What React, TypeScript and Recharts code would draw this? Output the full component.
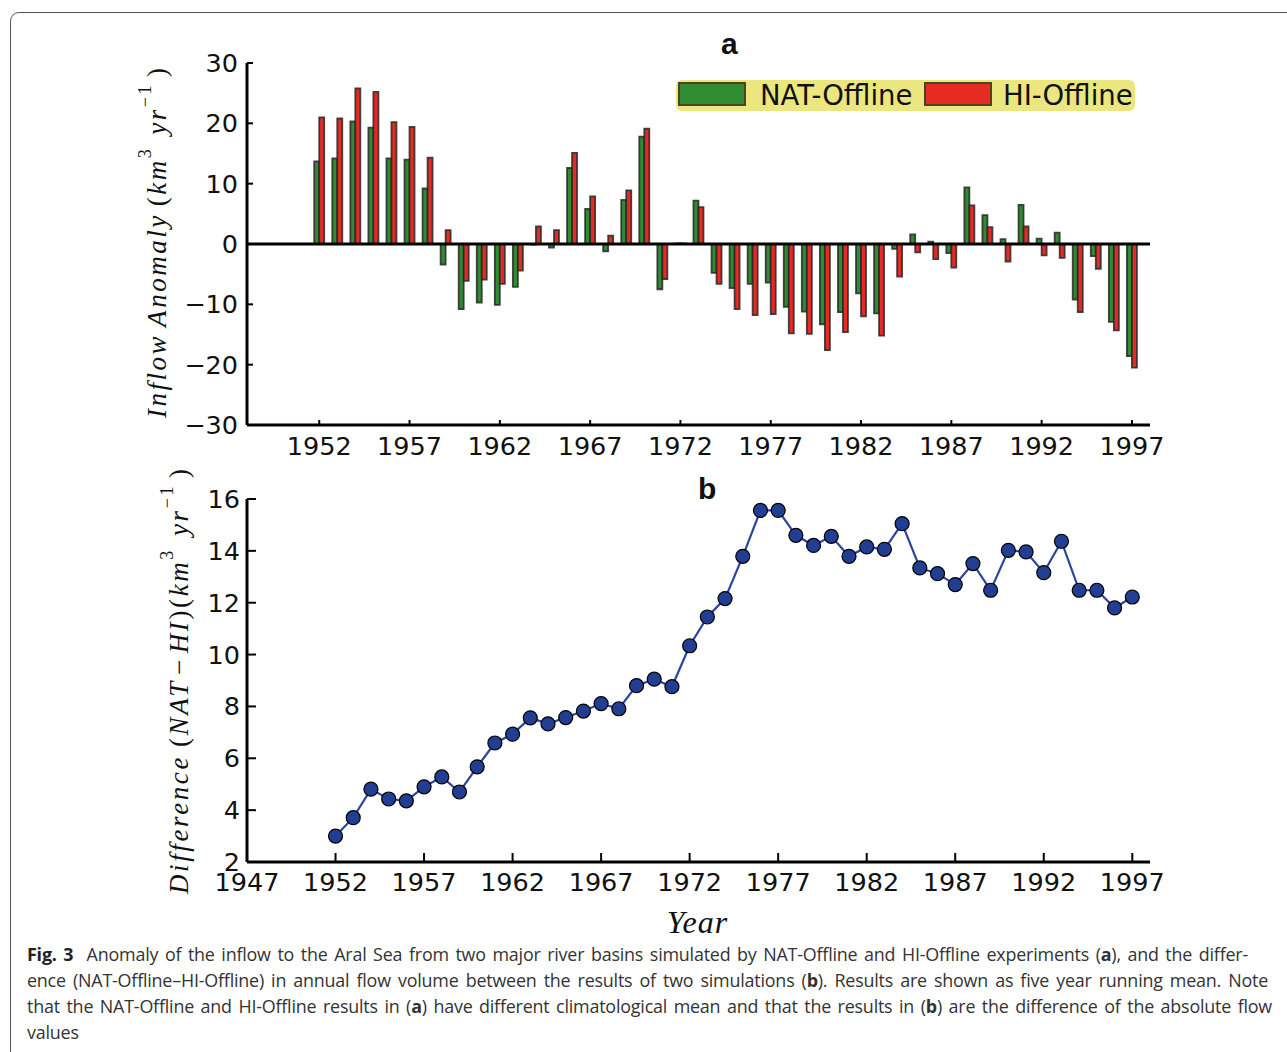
import React from 'react'
import { BarChart, Bar, LineChart, Line, XAxis, YAxis, ReferenceLine } from 'recharts'

const years = [
  1952, 1953, 1954, 1955, 1956, 1957, 1958, 1959, 1960, 1961,
  1962, 1963, 1964, 1965, 1966, 1967, 1968, 1969, 1970, 1971,
  1972, 1973, 1974, 1975, 1976, 1977, 1978, 1979, 1980, 1981,
  1982, 1983, 1984, 1985, 1986, 1987, 1988, 1989, 1990, 1991,
  1992, 1993, 1994, 1995, 1996, 1997,
]

// NAT-Offline inflow anomaly (km3/yr)
const natOffline = [
  13.7, 14.2, 20.3, 19.3, 14.2, 14.0, 9.2, -3.4, -10.8, -9.7,
  -10.1, -7.1, -0.1, -0.6, 12.6, 5.8, -1.2, 7.3, 17.8, -7.5,
  0.1, 7.2, -4.8, -7.3, -6.6, -6.4, -10.4, -11.2, -13.3, -11.3,
  -8.2, -11.5, -0.8, 1.6, 0.4, -1.5, 9.4, 4.8, 0.8, 6.5,
  0.9, 1.9, -9.2, -2.0, -12.9, -18.6,
]

// HI-Offline inflow anomaly (km3/yr)
const hiOffline = [
  21.0, 20.8, 25.8, 25.2, 20.2, 19.4, 14.3, 2.3, -6.1, -5.9,
  -6.6, -4.4, 2.9, 2.3, 15.1, 7.9, 1.4, 8.9, 19.1, -5.8,
  0.1, 6.1, -6.6, -10.8, -11.8, -11.6, -14.8, -14.9, -17.6, -14.6,
  -12.0, -15.2, -5.4, -1.4, -2.5, -3.9, 6.4, 2.8, -2.9, 2.9,
  -1.9, -2.3, -11.3, -4.1, -14.3, -20.5,
]

// NAT - HI difference (km3/yr)
const difference = [
  3.0, 3.71, 4.81, 4.43, 4.36, 4.9, 5.28, 4.7, 5.67, 6.59,
  6.93, 7.56, 7.33, 7.57, 7.82, 8.11, 7.91, 8.8, 9.05, 8.76,
  10.34, 11.45, 12.16, 13.79, 15.56, 15.56, 14.6, 14.21, 14.56, 13.79,
  14.15, 14.06, 15.05, 13.34, 13.12, 12.7, 13.51, 12.48, 14.02, 13.96,
  13.16, 14.37, 12.48, 12.48, 11.8, 12.22,
]

const anomalyTicks = [-30, -20, -10, 0, 10, 20, 30]
const yearTicksA = [1952, 1957, 1962, 1967, 1972, 1977, 1982, 1987, 1992, 1997]
const yearTicksB = [1947, 1952, 1957, 1962, 1967, 1972, 1977, 1982, 1987, 1992, 1997]
const diffTicks = [2, 4, 6, 8, 10, 12, 14, 16]

const GREEN = '#2f8c31'
const RED = '#e52b22'
const EDGE = 'rgba(40,40,40,0.85)'
const BLUE = '#2b459d'
const DOT = '#223e93'

const anomalyData = years.map((year, i) => ({ year, nat: natOffline[i], hi: hiOffline[i] }))
const diffData = years.map((year, i) => ({ year, diff: difference[i] }))

const tickFont = { fontFamily: 'DejaVu Sans', fontSize: 25.5, fill: '#111' }
const fmtMinus = (v: number) => (v < 0 ? `\u2212${-v}` : `${v}`)

const serif = 'Liberation Serif, DejaVu Serif, serif'

function AnomalyLabel(props: any) {
  const vb = props.viewBox ?? { x: 0, y: 63, width: 247, height: 362 }
  const cx = vb.x + 157
  const cy = vb.y + vb.height / 2 - 1
  return (
    <text
      x={cx}
      y={cy}
      transform={`rotate(-90 ${cx} ${cy})`}
      textAnchor="middle"
      dominantBaseline="central"
      fontFamily={serif}
      fontSize={27}
      fill="#111"
      textLength={350}
      lengthAdjust="spacing"
    >
      <tspan fontStyle="italic">Inflow</tspan>
      <tspan fontStyle="italic" dx={7}>Anomaly</tspan>
      <tspan dx={7}>(</tspan>
      <tspan fontStyle="italic">km</tspan>
      <tspan fontSize={18} dy={-12}>3</tspan>
      <tspan fontStyle="italic" dy={12} dx={12}>yr</tspan>
      <tspan fontSize={18} dy={-12}>{'\u22121'}</tspan>
      <tspan dy={12} dx={6}>)</tspan>
    </text>
  )
}

function DiffLabel(props: any) {
  const vb = props.viewBox ?? { x: 0, y: 499, width: 247, height: 363 }
  const cx = vb.x + 179
  const cy = vb.y + vb.height / 2 + 1
  return (
    <text
      x={cx}
      y={cy}
      transform={`rotate(-90 ${cx} ${cy})`}
      textAnchor="middle"
      dominantBaseline="central"
      fontFamily={serif}
      fontSize={27}
      fill="#111"
      textLength={425}
      lengthAdjust="spacing"
    >
      <tspan fontStyle="italic">Difference</tspan>
      <tspan dx={8}>(</tspan>
      <tspan fontStyle="italic">NAT</tspan>
      <tspan dx={4}>{'\u2212'}</tspan>
      <tspan fontStyle="italic" dx={4}>HI</tspan>
      <tspan>)(</tspan>
      <tspan fontStyle="italic">km</tspan>
      <tspan fontSize={18} dy={-12}>3</tspan>
      <tspan fontStyle="italic" dy={12} dx={12}>yr</tspan>
      <tspan fontSize={18} dy={-12}>{'\u22121'}</tspan>
      <tspan dy={12} dx={6}>)</tspan>
    </text>
  )
}

function YearLabel(props: any) {
  const vb = props.viewBox ?? { x: 247, y: 862, width: 903, height: 78 }
  return (
    <text
      x={vb.x + vb.width / 2 - 1}
      y={vb.y + 71}
      textAnchor="middle"
      fontFamily={serif}
      fontStyle="italic"
      fontSize={32}
      letterSpacing={1}
      fill="#111"
    >
      Year
    </text>
  )
}

function LegendBox() {
  const swatch = (left: number, color: string) => (
    <div
      style={{
        position: 'absolute',
        left,
        top: 2,
        width: 64,
        height: 20,
        background: color,
        border: '2px solid #4d4322',
      }}
    />
  )
  const label = (left: number, text: string) => (
    <div
      style={{
        position: 'absolute',
        left,
        top: -2,
        fontFamily: 'DejaVu Sans',
        fontSize: 27.5,
        lineHeight: '34px',
        color: '#111',
        whiteSpace: 'nowrap',
      }}
    >
      {text}
    </div>
  )
  return (
    <div
      style={{
        position: 'absolute',
        left: 676,
        top: 80,
        width: 459,
        height: 31,
        background: '#ebe77e',
        borderRadius: 6,
      }}
    >
      {swatch(2, GREEN)}
      {label(84, 'NAT-Offline')}
      {swatch(248, RED)}
      {label(327, 'HI-Offline')}
    </div>
  )
}

// caption line, justified to the width it has in the figure
function CaptionLine({ width, children }: { width: number; children: React.ReactNode }) {
  return (
    <div
      style={{
        width,
        textAlign: 'justify',
        textAlignLast: 'justify',
        whiteSpace: 'nowrap',
      }}
    >
      {children}
    </div>
  )
}

export default function App() {
  return (
    <div
      style={{
        position: 'absolute',
        left: 0,
        top: 0,
        width: 1287,
        height: 1052,
        overflow: 'hidden',
        background: '#fff',
      }}
    >
      <div
        style={{
          position: 'absolute',
          left: 10,
          top: 12,
          width: 1320,
          height: 1100,
          border: '1px solid #555',
          borderRadius: 9,
        }}
      />

      <div style={{ position: 'absolute', left: 0, top: 0 }}>
        <BarChart
          width={1287}
          height={470}
          data={anomalyData}
          margin={{ top: 63, right: 137, left: 0, bottom: 0 }}
          barGap={0}
          barSize={5}
        >
          <XAxis
            dataKey="year"
            type="number"
            domain={[1948, 1998]}
            ticks={yearTicksA}
            interval={0}
            height={45}
            axisLine={{ stroke: '#000', strokeWidth: 3 }}
            tickLine={{ stroke: '#000', strokeWidth: 2 }}
            tickSize={-5}
            tickMargin={17}
            tick={tickFont}
            allowDataOverflow
          />
          <YAxis
            type="number"
            domain={[-30, 30]}
            ticks={anomalyTicks}
            interval={0}
            width={247}
            axisLine={{ stroke: '#000', strokeWidth: 3 }}
            tickLine={{ stroke: '#000', strokeWidth: 2 }}
            tickSize={-6}
            tickMargin={15}
            tick={tickFont}
            tickFormatter={fmtMinus}
            label={(p: any) => <AnomalyLabel {...p} />}
          />
          <ReferenceLine y={0} stroke="#000" strokeWidth={3} />
          <Bar dataKey="nat" name="NAT-Offline" fill={GREEN} stroke={EDGE} strokeWidth={1.8} isAnimationActive={false} />
          <Bar dataKey="hi" name="HI-Offline" fill={RED} stroke={EDGE} strokeWidth={1.8} isAnimationActive={false} />
        </BarChart>
      </div>

      <div style={{ position: 'absolute', left: 0, top: 470 }}>
        <LineChart
          width={1287}
          height={470}
          data={diffData}
          margin={{ top: 29, right: 137, left: 0, bottom: 0 }}
        >
          <XAxis
            dataKey="year"
            type="number"
            domain={[1947, 1998]}
            ticks={yearTicksB}
            interval={0}
            height={78}
            axisLine={{ stroke: '#000', strokeWidth: 3 }}
            tickLine={{ stroke: '#000', strokeWidth: 2 }}
            tickSize={-9}
            tickMargin={20}
            tick={tickFont}
            allowDataOverflow
            label={(p: any) => <YearLabel {...p} />}
          />
          <YAxis
            type="number"
            domain={[2, 16]}
            ticks={diffTicks}
            interval={0}
            width={247}
            axisLine={{ stroke: '#000', strokeWidth: 3 }}
            tickLine={{ stroke: '#000', strokeWidth: 2 }}
            tickSize={-9}
            tickMargin={16}
            tick={tickFont}
            label={(p: any) => <DiffLabel {...p} />}
          />
          <Line
            dataKey="diff"
            stroke={BLUE}
            strokeWidth={2.2}
            dot={{ r: 7, fill: DOT, stroke: '#000', strokeWidth: 1.2 }}
            isAnimationActive={false}
          />
        </LineChart>
      </div>

      <LegendBox />

      <div
        style={{
          position: 'absolute',
          left: 721,
          top: 27,
          fontFamily: 'Liberation Sans, Arial, sans-serif',
          fontWeight: 'bold',
          fontSize: 30,
          color: '#111',
        }}
      >
        a
      </div>
      <div
        style={{
          position: 'absolute',
          left: 698,
          top: 472,
          fontFamily: 'Liberation Sans, Arial, sans-serif',
          fontWeight: 'bold',
          fontSize: 30,
          color: '#111',
        }}
      >
        b
      </div>

      <div
        style={{
          position: 'absolute',
          left: 27,
          top: 941,
          fontFamily: '"Open Sans", sans-serif',
          fontSize: 17.9,
          letterSpacing: -0.2,
          lineHeight: '26px',
          color: '#333',
        }}
      >
        <CaptionLine width={1221}>
          <b style={{ color: '#222' }}>Fig. 3</b>&nbsp; Anomaly of the inflow to the Aral Sea from two major river basins simulated by NAT-Offline and HI-Offline experiments (<b>a</b>), and the differ-
        </CaptionLine>
        <CaptionLine width={1241}>
          ence (NAT-Offline–HI-Offline) in annual flow volume between the results of two simulations (<b>b</b>). Results are shown as five year running mean. Note
        </CaptionLine>
        <CaptionLine width={1245}>
          that the NAT-Offline and HI-Offline results in (<b>a</b>) have different climatological mean and that the results in (<b>b</b>) are the difference of the absolute flow
        </CaptionLine>
        <div>values</div>
      </div>
    </div>
  )
}
